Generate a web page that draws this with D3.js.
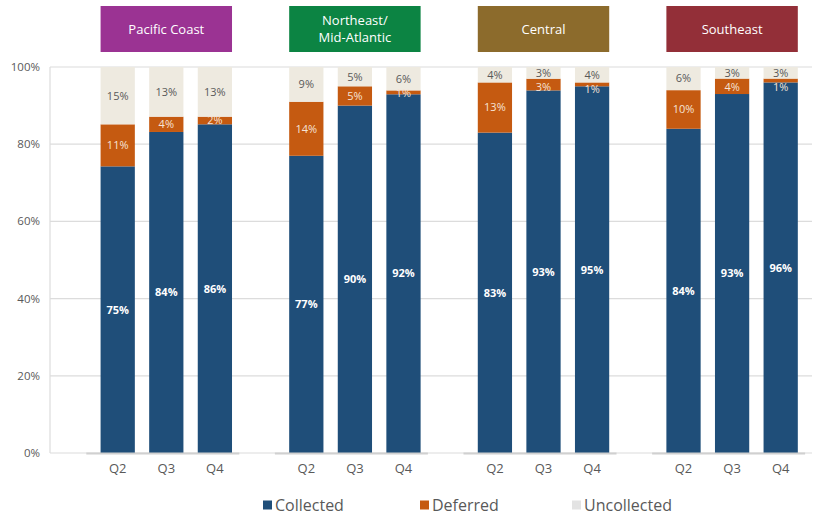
<!DOCTYPE html>
<html>
<head>
<meta charset="utf-8">
<script src="https://cdn.jsdelivr.net/npm/d3@7"></script>
<style>
  html, body { margin: 0; padding: 0; background: #fff; }
  svg { display: block; font-family: "Open Sans", "DejaVu Sans", sans-serif; }
</style>
</head>
<body>
<svg id="chart" width="817" height="521"></svg>
<script>
// Regions, quarters and the share of each status (in percent)
const regions = ["Pacific Coast", "Northeast/\nMid-Atlantic", "Central", "Southeast"];
const regionColors = ["#9B3393", "#0C8443", "#8C6B2C", "#932F38"];
const quarters = ["Q2", "Q3", "Q4"];
const seriesNames = ["Collected", "Deferred", "Uncollected"];
const seriesColors = ["#1F4E79", "#C55A11", "#EEEAE0"];
const legendSwatchColors = ["#1F4E79", "#C55A11", "#E3E3E3"];

const collected   = [[75, 84, 86], [77, 90, 92], [83, 93, 95], [84, 93, 96]];
const deferred    = [[11, 4, 2],   [14, 5, 1],   [13, 3, 1],   [10, 4, 1]];
const uncollected = [[15, 13, 13], [9, 5, 6],    [4, 3, 4],    [6, 3, 3]];

const yTicks = [0, 20, 40, 60, 80, 100];

const svg = d3.select("#chart");
const plot = { left: 50, right: 812, top: 67, bottom: 453 };

// Flat rows for the stack layout
const rows = [];
regions.forEach((r, i) => quarters.forEach((q, j) => {
  rows.push({ region: r, ri: i, quarter: q,
    Collected: collected[i][j], Deferred: deferred[i][j], Uncollected: uncollected[i][j] });
}));

// 100% stacked layout
const stack = d3.stack().keys(seriesNames).offset(d3.stackOffsetExpand);
const layers = stack(rows);

const y = d3.scaleLinear().domain([0, 1]).range([plot.bottom, plot.top]);
const x0 = d3.scaleBand().domain(regions).range([72, 826.4]).paddingInner(0).paddingOuter(0);
const groupWidth = 146;
const x1 = d3.scaleBand().domain(quarters).range([0, groupWidth]).paddingInner(0.295).paddingOuter(0.15);
const groupLeft = r => x0(r) + x0.bandwidth() / 2 - groupWidth / 2;
const barX = d => groupLeft(d.region) + x1(d.quarter);

// Gridlines
svg.append("g").selectAll("line").data(yTicks).join("line")
  .attr("x1", plot.left).attr("x2", plot.right)
  .attr("y1", d => y(d / 100)).attr("y2", d => y(d / 100))
  .attr("stroke", "#DCDCDC").attr("stroke-width", 1.2);

// Vertical axis line
svg.append("line")
  .attr("x1", plot.left).attr("x2", plot.left)
  .attr("y1", plot.top).attr("y2", plot.bottom)
  .attr("stroke", "#DCDCDC").attr("stroke-width", 1.2);

// Y tick labels
svg.append("g").selectAll("text").data(yTicks).join("text")
  .attr("x", 40).attr("y", d => y(d / 100))
  .attr("dy", "0.35em").attr("text-anchor", "end")
  .attr("font-size", 11.5).attr("fill", "#595959")
  .text(d => d + "%");

// Bars
const barG = svg.append("g");
layers.forEach((layer, k) => {
  barG.append("g").attr("fill", seriesColors[k])
    .selectAll("rect").data(layer).join("rect")
    .attr("x", d => barX(d.data))
    .attr("width", x1.bandwidth())
    .attr("y", d => y(d[1]))
    .attr("height", d => y(d[0]) - y(d[1]));
});

// Group baselines
svg.append("g").selectAll("line").data(regions).join("line")
  .attr("x1", r => groupLeft(r) - 7).attr("x2", r => groupLeft(r) + groupWidth)
  .attr("y1", plot.bottom + 0.5).attr("y2", plot.bottom + 0.5)
  .attr("stroke", "#D0D0D0").attr("stroke-width", 2);

// Segment labels: centred in each segment; a thin deferred segment's label
// is pushed down so it stays clear of the uncollected label above it.
const labelStyle = [
  { fill: "#FFFFFF", weight: 700 },
  { fill: "#F6E3D6", weight: 400 },
  { fill: "#595959", weight: 400 }
];
const minGap = 14.5;
const labelY = (k, idx) => {
  const seg = layers[k][idx];
  const mid = (y(seg[0]) + y(seg[1])) / 2;
  if (k === 1) {
    const up = layers[2][idx];
    const upMid = (y(up[0]) + y(up[1])) / 2;
    return Math.max(mid, upMid + minGap);
  }
  return mid;
};
layers.forEach((layer, k) => {
  svg.append("g").selectAll("text").data(layer).join("text")
    .attr("x", d => barX(d.data) + x1.bandwidth() / 2)
    .attr("y", (d, idx) => labelY(k, idx))
    .attr("dy", "0.35em").attr("text-anchor", "middle")
    .attr("font-size", 11).attr("font-weight", labelStyle[k].weight)
    .attr("fill", labelStyle[k].fill)
    .text(d => d.data[seriesNames[k]] + "%");
});

// Quarter labels
svg.append("g").selectAll("text").data(rows).join("text")
  .attr("x", d => barX(d) + x1.bandwidth() / 2)
  .attr("y", 468).attr("dy", "0.35em").attr("text-anchor", "middle")
  .attr("font-size", 13).attr("fill", "#595959")
  .text(d => d.quarter);

// Region header boxes, one text element per header line
const boxW = x1("Q4") + x1.bandwidth() - x1("Q2");
const header = svg.append("g").selectAll("g").data(regions).join("g");
header.append("rect")
  .attr("x", r => groupLeft(r) + x1("Q2"))
  .attr("width", boxW)
  .attr("y", 6).attr("height", 46)
  .attr("fill", (r, i) => regionColors[i]);
header.each(function (r) {
  const lines = r.split("\n");
  const cx = groupLeft(r) + x1("Q2") + boxW / 2;
  lines.forEach((ln, i) => {
    d3.select(this).append("text")
      .attr("text-anchor", "middle").attr("font-size", 13).attr("fill", "#FFFFFF")
      .attr("x", cx)
      .attr("y", 29 + (i - (lines.length - 1) / 2) * 16.5)
      .attr("dy", "0.35em").text(ln);
  });
});

// Legend
const legendX = [263, 420, 572];
const legend = svg.append("g").selectAll("g").data(seriesNames).join("g")
  .attr("transform", (d, i) => `translate(${legendX[i]},505)`);
legend.append("rect").attr("x", 0).attr("y", -4.5).attr("width", 9).attr("height", 9)
  .attr("fill", (d, i) => legendSwatchColors[i]);
legend.append("text").attr("x", 12).attr("dy", "0.35em")
  .attr("font-size", 16).attr("fill", "#595959").text(d => d);
</script>
</body>
</html>
